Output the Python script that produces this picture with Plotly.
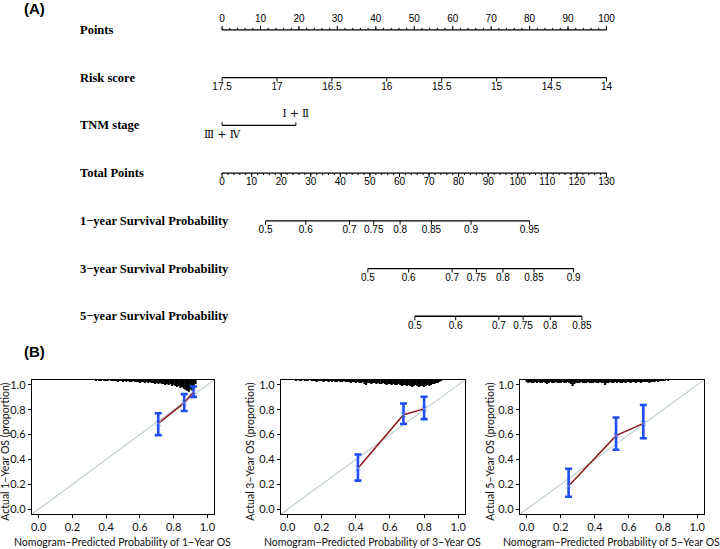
# Nomogram (A) and calibration curves (B) for 1-, 3- and 5-year OS
import plotly.graph_objects as go

W, H = 720, 549

# ---------------- (A) nomogram values ----------------
row_names = ["Points", "Risk score", "TNM stage", "Total Points",
             "1\u2212year Survival Probability", "3\u2212year Survival Probability",
             "5\u2212year Survival Probability"]

points_major = list(range(0, 101, 10))
points_minor = list(range(0, 101, 2))
risk_ticks = [17.5, 17, 16.5, 16, 15.5, 15, 14.5, 14]
tnm_labels = ["\u2162 + \u2163", "\u2160 + \u2161"]   # III+IV, I+II
tnm_points = [0, 19.2]
total_major = list(range(0, 131, 10))
total_minor = list(range(0, 131, 2))

surv1_probs = [0.5, 0.6, 0.7, 0.75, 0.8, 0.85, 0.9, 0.95]
surv1_total = [14.7, 28.3, 43.1, 51.3, 60.2, 70.8, 84.2, 104.0]
surv3_probs = [0.5, 0.6, 0.7, 0.75, 0.8, 0.85, 0.9]
surv3_total = [49.3, 63.1, 77.8, 86.0, 95.0, 105.5, 118.9]
surv5_probs = [0.5, 0.6, 0.7, 0.75, 0.8, 0.85]
surv5_total = [65.2, 79.0, 93.6, 101.8, 111.0, 121.7]

# ---------------- (B) calibration values ----------------
cal1_pred = [0.709, 0.863, 0.918]
cal1_obs = [0.69, 0.855, 0.945]
cal1_lo = [0.596, 0.79, 0.904]
cal1_hi = [0.772, 0.926, 0.987]

cal3_pred = [0.412, 0.679, 0.80]
cal3_obs = [0.33, 0.76, 0.807]
cal3_lo = [0.23, 0.685, 0.725]
cal3_hi = [0.44, 0.85, 0.905]

cal5_pred = [0.246, 0.524, 0.684]
cal5_obs = [0.187, 0.592, 0.69]
cal5_lo = [0.10, 0.478, 0.571]
cal5_hi = [0.325, 0.738, 0.838]

# distribution of predicted probabilities (rug at top), 0.01 bins
rug1_start = 0.34
rug1_counts = [1, 0, 1, 1, 0, 1, 1, 1, 0, 1, 1, 1, 1, 2, 1, 1, 2, 1, 2, 1,
               2, 2, 1, 2, 2, 2, 3, 2, 2, 3, 2, 3, 2, 3, 3, 4, 3, 4, 3, 4,
               4, 5, 4, 5, 4, 6, 5, 6, 7, 6, 8, 7, 9, 10, 11, 12, 10, 11, 8, 4]
rug3_start = 0.05
rug3_counts = [1, 0, 1, 1, 0, 1, 1, 1, 0, 1, 1, 1, 2, 1, 1, 1, 2, 1, 1, 2,
               1, 2, 1, 2, 2, 1, 2, 2, 1, 2, 2, 2, 3, 2, 2, 3, 2, 3, 3, 2,
               4, 5, 3, 3, 4, 3, 3, 4, 3, 4, 4, 3, 4, 5, 4, 4, 5, 4, 5, 5,
               4, 5, 6, 5, 5, 6, 5, 6, 7, 6, 5, 6, 7, 6, 6, 7, 6, 5, 6, 5,
               4, 4, 3, 3, 2, 1]
rug5_start = 0.0
rug5_counts = [2, 3, 2, 3, 3, 2, 3, 2, 3, 3, 2, 3, 4, 3, 2, 3, 3, 2, 3, 3,
               3, 2, 3, 3, 2, 3, 4, 6, 4, 3, 3, 3, 2, 3, 3, 3, 2, 3, 3, 3,
               2, 3, 3, 2, 3, 3, 5, 3, 3, 2, 3, 3, 2, 3, 2, 3, 3, 2, 3, 2,
               2, 3, 2, 2, 3, 2, 2, 3, 2, 2, 2, 2, 3, 2, 2, 2, 1, 2, 1, 1,
               1, 1, 0, 1]
RUG_STEP = 0.01
RUG_UNIT = 0.008

x_title = "Nomogram\u2212Predicted Probability of {}\u2212Year OS"
y_title = "Actual {}\u2212Year OS (proportion)"

# ---------------- helpers ----------------
def risk_to_pts(r):
    return (risk_ticks[0] - r) / (risk_ticks[0] - risk_ticks[-1]) * 100

def total_to_pts(t):
    return t * 100 / total_major[-1]

PX = 1 / 48.0  # nomogram y-units per pixel (rows 48 px apart)

def segs(xs, y0, y1):
    xx, yy = [], []
    for x in xs:
        xx += [x, x, None]
        yy += [y0, y1, None]
    return xx, yy

fig = go.Figure()
NOM = dict(xaxis="x", yaxis="y", hoverinfo="skip", showlegend=False)
LINE = dict(color="black", width=1.3)
TICK = dict(color="black", width=1)
TFONT = dict(family="Liberation Sans, Arial", size=10, color="black")

def nom_row(row, xs, labels, up, major_len=4, minor=None, label_gap=10):
    fig.add_trace(go.Scatter(x=[xs[0], xs[-1]], y=[row, row], mode="lines", line=LINE, **NOM))
    sgn = -1 if up else 1
    if minor:
        mx, my = segs(minor, row, row + sgn * 2 * PX)
        fig.add_trace(go.Scatter(x=mx, y=my, mode="lines", line=TICK, **NOM))
    tx, ty = segs(xs, row, row + sgn * major_len * PX)
    fig.add_trace(go.Scatter(x=tx, y=ty, mode="lines", line=TICK, **NOM))
    fig.add_trace(go.Scatter(x=xs, y=[row + sgn * label_gap * PX] * len(xs), mode="text",
                             text=labels, textposition="middle center", textfont=TFONT, **NOM))

# Points
nom_row(0, points_major, [str(v) for v in points_major], up=True, major_len=4,
        minor=points_minor, label_gap=10)
# Risk score
nom_row(1, [risk_to_pts(r) for r in risk_ticks], [f"{r:g}" for r in risk_ticks], up=False)
# TNM stage
fig.add_trace(go.Scatter(x=tnm_points, y=[2, 2], mode="lines", line=LINE, **NOM))
tx, ty = segs(tnm_points, 2, 2 - 3 * PX)
fig.add_trace(go.Scatter(x=tx, y=ty, mode="lines", line=TICK, **NOM))
fig.add_trace(go.Scatter(x=tnm_points, y=[2 + 10 * PX, 2 - 11 * PX], mode="text",
                         text=tnm_labels, textposition="middle center",
                         textfont=dict(family="DejaVu Serif, Noto Sans CJK SC", size=10.5,
                                       color="black"), **NOM))
# Total points
nom_row(3, [total_to_pts(t) for t in total_major], [str(v) for v in total_major], up=False,
        major_len=4, minor=[total_to_pts(t) for t in total_minor], label_gap=9)
# Survival probability rows
for row, probs, tots in [(4, surv1_probs, surv1_total), (5, surv3_probs, surv3_total),
                         (6, surv5_probs, surv5_total)]:
    nom_row(row, [total_to_pts(t) for t in tots], [f"{p:g}" for p in probs], up=False)

annotations = []
for i, name in enumerate(row_names):
    annotations.append(dict(text=f"<b>{name}</b>", xref="paper", yref="y", x=77.7 / W, y=i,
                            xanchor="left", yanchor="middle", showarrow=False,
                            font=dict(family="Liberation Serif, Times New Roman", size=12.5,
                                      color="black")))
for lab, ypx in [("(A)", 6.7), ("(B)", 351.7)]:
    annotations.append(dict(text=f"<b>{lab}</b>", xref="paper", yref="paper", x=21 / W,
                            y=1 - ypx / H, xanchor="left", yanchor="middle", showarrow=False,
                            font=dict(family="Liberation Sans, Arial", size=15, color="black")))

# ---------------- (B) calibration panels ----------------
YTOP = 1.04
AX_RANGE = [-0.04, YTOP]
panels = [
    ("1", cal1_pred, cal1_obs, cal1_lo, cal1_hi, rug1_start, rug1_counts, (31, 214), 4.5),
    ("3", cal3_pred, cal3_obs, cal3_lo, cal3_hi, rug3_start, rug3_counts, (281, 466), 250.5),
    ("5", cal5_pred, cal5_obs, cal5_lo, cal5_hi, rug5_start, rug5_counts, (521, 706), 491.5),
]
AFONT = dict(family="Lato, Open Sans", size=11, color="#111111")
TITLE_FONT = dict(family="Lato, Open Sans", size=10.5, color="#111111")
ax_layout = {}
for k, (yr, pred, obs, lo, hi, rstart, counts, (x0, x1), ytx) in enumerate(panels, start=2):
    xa, ya = f"x{k}", f"y{k}"
    # diagonal reference
    fig.add_trace(go.Scatter(x=AX_RANGE, y=AX_RANGE, mode="lines",
                             line=dict(color="#b9cace", width=1.1),
                             xaxis=xa, yaxis=ya, showlegend=False, hoverinfo="skip"))
    # rug of predicted values
    rx, ry = [], []
    for i, c in enumerate(counts):
        if c == 0:
            continue
        xv = rstart + i * RUG_STEP
        rx += [xv, xv, None]
        ry += [YTOP, YTOP - c * RUG_UNIT, None]
    fig.add_trace(go.Scatter(x=rx, y=ry, mode="lines", line=dict(color="black", width=2.1),
                             xaxis=xa, yaxis=ya, showlegend=False, hoverinfo="skip"))
    # calibration curve with CI
    fig.add_trace(go.Scatter(
        x=pred, y=obs, mode="lines+markers",
        line=dict(color="#8b1a1a", width=1.5),
        marker=dict(symbol="x-thin", size=5, color="#5b8cff", line=dict(width=1, color="#5b8cff")),
        error_y=dict(type="data", symmetric=False,
                     array=[h - o for h, o in zip(hi, obs)],
                     arrayminus=[o - l for o, l in zip(obs, lo)],
                     color="#1f4ef5", thickness=2.6, width=3.5),
        xaxis=xa, yaxis=ya, showlegend=False))
    common = dict(range=AX_RANGE, showgrid=False, zeroline=False, showline=True, mirror=True,
                  linecolor="black", linewidth=1.2, ticks="outside", ticklen=3,
                  tickcolor="black", tickvals=[0, 0.2, 0.4, 0.6, 0.8, 1.0], tickformat=".1f",
                  tickfont=AFONT, fixedrange=True)
    ax_layout[f"xaxis{k}"] = dict(domain=[x0 / W, x1 / W], anchor=ya, **common)
    ax_layout[f"yaxis{k}"] = dict(domain=[1 - 515 / H, 1 - 380 / H], anchor=xa, **common)
    annotations.append(dict(text=x_title.format(yr), xref=f"{xa} domain", yref="paper",
                            x=0.5, y=1 - 542.7 / H, xanchor="center", yanchor="middle",
                            showarrow=False, font=TITLE_FONT))
    annotations.append(dict(text=y_title.format(yr), xref="paper", yref="paper",
                            x=ytx / W, y=1 - 451.7 / H, xanchor="center", yanchor="middle",
                            textangle=-90, showarrow=False, font=TITLE_FONT))

# nomogram axes: x in Points units (0 -> px 222, 100 -> px 608), y in row units
PPU = (608 - 222) / 100.0
fig.update_layout(
    width=W, height=H, margin=dict(l=0, r=0, t=0, b=0),
    paper_bgcolor="white", plot_bgcolor="white",
    xaxis=dict(domain=[0, 1], range=[-222 / PPU, (W - 222) / PPU], visible=False,
               fixedrange=True),
    yaxis=dict(domain=[1 - 345 / H, 1], range=[(345 - 28) / 48.0, -28 / 48.0],
               visible=False, fixedrange=True),
    annotations=annotations,
    **ax_layout,
)

# page body has a default 8px margin; drop it so the figure fills the window
fig.write_html("out.html", config={"displayModeBar": False},
               post_script="document.body.style.margin='0';document.body.style.overflow='hidden';")
